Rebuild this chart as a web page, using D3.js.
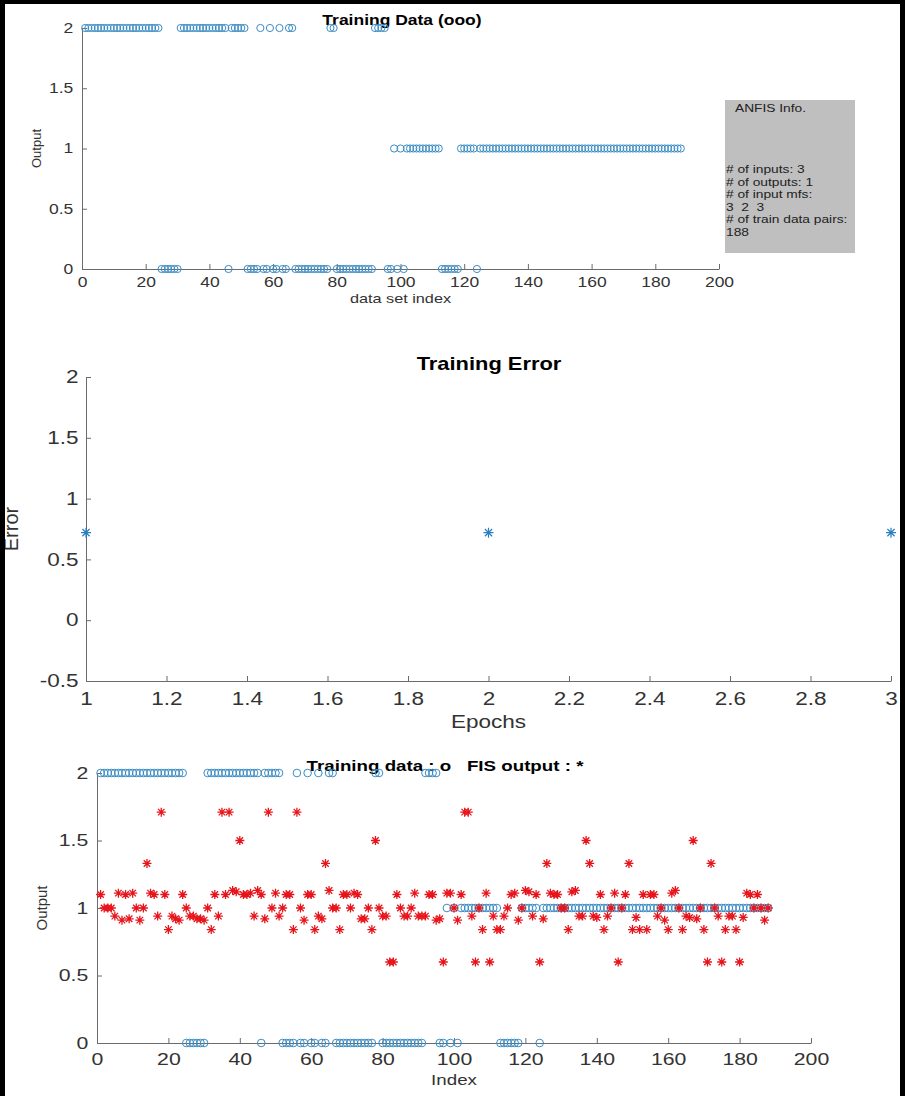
<!DOCTYPE html>
<html>
<head>
<meta charset="utf-8">
<script src="https://cdn.jsdelivr.net/npm/d3@7"></script>
<style>
  body { margin: 0; background: #fff; }
  svg { display: block; font-family: "Liberation Sans", Arial, sans-serif; }
  .axis path, .axis line { stroke: #6b6b6b; }
  .axis text { fill: #333; }
</style>
</head>
<body>
<div id="chart"></div>
<script>
// training data output per data set index (1..188)
const trainOutput = [
  2,2,2,2,2,2,2,2,2,2,
  2,2,2,2,2,2,2,2,2,2,
  2,2,2,2,0,0,0,0,0,0,
  2,2,2,2,2,2,2,2,2,2,
  2,2,2,2,2,0,2,2,2,2,
  2,0,0,0,0,2,0,0,2,0,
  0,2,0,0,2,2,0,0,0,0,
  0,0,0,0,0,0,0,2,2,0,
  0,0,0,0,0,0,0,0,0,0,
  0,2,2,2,2,0,0,1,0,1,
  0,1,1,1,1,1,1,1,1,1,
  1,1,0,0,0,0,0,0,1,1,
  1,1,1,0,1,1,1,1,1,1,
  1,1,1,1,1,1,1,1,1,1,
  1,1,1,1,1,1,1,1,1,1,
  1,1,1,1,1,1,1,1,1,1,
  1,1,1,1,1,1,1,1,1,1,
  1,1,1,1,1,1,1,1,1,1,
  1,1,1,1,1,1,1,1
];

// FIS output per index (1..188)
const fisOutput = [
  1.10,1.00,1.00,1.00,0.94,1.11,0.91,1.10,0.92,1.11,
  1.00,0.91,1.00,1.33,1.11,1.10,0.94,1.71,1.10,0.84,
  0.94,0.92,0.91,1.10,1.00,0.94,0.94,0.92,0.92,0.91,
  1.00,0.84,1.10,0.94,1.71,1.10,1.71,1.13,1.12,1.50,
  1.10,1.10,1.11,0.94,1.13,1.10,0.92,1.71,1.00,1.11,
  0.94,1.00,1.10,1.10,0.84,1.71,1.00,0.91,1.10,1.10,
  0.84,0.94,0.92,1.33,1.13,1.00,1.00,0.84,1.10,1.10,
  1.00,1.11,1.10,0.92,0.92,1.00,0.84,1.50,1.00,0.94,
  0.94,0.60,0.60,1.10,1.00,0.94,0.94,1.00,1.11,0.94,
  0.94,0.94,1.10,1.10,0.91,0.92,0.60,1.11,1.11,1.00,
  0.91,1.10,1.71,1.71,0.94,0.60,1.00,0.84,1.11,0.60,
  0.94,0.84,0.84,0.94,1.00,1.10,1.11,0.91,1.00,1.13,
  1.12,0.94,1.10,0.60,0.92,1.33,1.11,1.10,1.10,1.00,
  1.00,0.84,1.12,1.13,0.94,0.94,1.50,1.33,0.94,0.93,
  1.10,0.84,0.94,1.00,1.11,0.60,1.00,1.10,1.33,0.84,
  0.93,0.84,1.10,0.84,1.10,1.10,0.94,1.00,0.91,0.84,
  1.11,1.13,1.00,0.84,0.94,0.93,1.50,0.92,1.00,0.84,
  0.60,1.33,1.00,0.94,0.60,0.84,0.94,0.94,0.84,0.60,
  0.93,1.11,1.10,1.00,1.10,1.00,0.91,1.00
];

// training error per epoch
const epochs = [1, 2, 3];
const trainError = [0.72, 0.72, 0.72];

const idxTicks = [0, 20, 40, 60, 80, 100, 120, 140, 160, 180, 200];
const outTicks = [0, 0.5, 1, 1.5, 2];
const epochTicks = [1, 1.2, 1.4, 1.6, 1.8, 2, 2.2, 2.4, 2.6, 2.8, 3];
const errTicks = [-0.5, 0, 0.5, 1, 1.5, 2];

const infoLines = ["# of inputs: 3", "# of outputs: 1", "# of input mfs:", "3  2  3", "# of train data pairs:", "188"];

const W = 905, H = 1096;
const SX = 1.25;   // the original figure is stretched sideways, so is its text
const blue = "#3a8cc4", red = "#e8141b";
const fmt = d => d3.format("~g")(d).replace("\u2212", "-");

const svg = d3.select("#chart").append("svg")
    .attr("width", W)
    .attr("height", H);

// MATLAB style asterisk: + and x overlaid
function star(g, x, y, r, color, sw) {
    const d = r * 0.72;
    const p = `M${x - r},${y}L${x + r},${y}M${x},${y - r}L${x},${y + r}` +
              `M${x - d},${y - d}L${x + d},${y + d}M${x - d},${y + d}L${x + d},${y - d}`;
    g.append("path").attr("d", p).attr("stroke", color).attr("stroke-width", sw).attr("fill", "none");
}

// horizontal text, widened like the original
function label(g, x, y, txt, size, opts = {}) {
    return g.append("text")
        .attr("transform", `translate(${x},${y}) scale(${SX},1)`)
        .attr("text-anchor", opts.anchor || "start")
        .attr("fill", opts.fill || "#333")
        .style("font-size", size + "px")
        .style("font-weight", opts.bold ? "bold" : null)
        .style("white-space", "pre")
        .text(txt);
}

function makeAxes(cfg) {
    let vis = {};
    vis.x = d3.scaleLinear().domain(cfg.xDomain).range([cfg.left, cfg.right]);
    vis.y = d3.scaleLinear().domain(cfg.yDomain).range([cfg.bottom, cfg.top]);
    vis.g = svg.append("g");

    const xAxis = d3.axisBottom(vis.x).tickValues(cfg.xTicks).tickSizeInner(-5).tickSizeOuter(0)
        .tickPadding(cfg.xPad).tickFormat(fmt);
    const yAxis = d3.axisLeft(vis.y).tickValues(cfg.yTicks).tickSizeInner(-5).tickSizeOuter(0)
        .tickPadding(cfg.yPad).tickFormat(fmt);

    vis.g.append("g").attr("class", "axis")
        .attr("transform", `translate(0,${cfg.bottom})`)
        .call(xAxis)
        .call(g => g.selectAll("text").style("font-size", cfg.fs + "px").attr("transform", `scale(${SX},1)`));
    vis.g.append("g").attr("class", "axis")
        .attr("transform", `translate(${cfg.left},0)`)
        .call(yAxis)
        .call(g => g.selectAll("text").style("font-size", cfg.fs + "px").attr("transform", `scale(${SX},1)`));
    vis.g.selectAll(".domain").attr("stroke", "#6b6b6b");

    // titles
    label(vis.g, cfg.titleX, cfg.titleY, cfg.title, cfg.titleFs, {anchor: "middle", bold: true, fill: "#000"});
    label(vis.g, (cfg.left + cfg.right) / 2, cfg.xLabelY, cfg.xLabel, cfg.labFs, {anchor: "middle"});
    vis.g.append("text")
        .attr("transform", `translate(${cfg.yLabelX},${(cfg.top + cfg.bottom) / 2}) rotate(-90)`)
        .attr("text-anchor", "middle").attr("fill", "#333")
        .style("font-size", (cfg.yLabFs || cfg.labFs) + "px")
        .text(cfg.yLabel);
    return vis;
}

// ---------- Top: training data ----------
const topChart = makeAxes({
    left: 82, right: 719, top: 28, bottom: 269,
    xDomain: [0, 200], yDomain: [0, 2], xTicks: idxTicks, yTicks: outTicks,
    fs: 14, xPad: 8, yPad: 7, title: "Training Data (ooo)", titleX: 402, titleY: 25, titleFs: 14,
    xLabel: "data set index", xLabelY: 303, labFs: 13, yLabel: "Output", yLabelX: 41
});
topChart.g.append("g").selectAll("circle")
    .data(trainOutput)
  .join("circle")
    .attr("cx", (d, i) => topChart.x(i + 1))
    .attr("cy", d => topChart.y(d))
    .attr("r", 3.6)
    .attr("fill", "none")
    .attr("stroke", blue)
    .attr("stroke-width", 1);

// info box
const info = svg.append("g");
info.append("rect").attr("x", 725).attr("y", 100).attr("width", 130).attr("height", 153).attr("fill", "#bfbfbf");
label(info, 735, 112, "ANFIS Info.", 11, {fill: "#222"});
infoLines.forEach((t, i) => label(info, 726, 173 + i * 12.5, t, 11, {fill: "#222"}));

// ---------- Middle: training error ----------
const midChart = makeAxes({
    left: 86, right: 891, top: 377, bottom: 681,
    xDomain: [1, 3], yDomain: [-0.5, 2], xTicks: epochTicks, yTicks: errTicks,
    fs: 18, xPad: 11, yPad: 6, title: "Training Error", titleX: 489, titleY: 370, titleFs: 17.5,
    xLabel: "Epochs", xLabelY: 728, labFs: 18, yLabel: "Error", yLabelX: 18, yLabFs: 20
});
midChart.g.append("g").call(g => epochs.forEach((e, i) =>
    star(g, midChart.x(e), midChart.y(trainError[i]), 5, "#2a7fc0", 1.2)));

// ---------- Bottom: training data vs FIS output ----------
const botChart = makeAxes({
    left: 97, right: 811, top: 773, bottom: 1043,
    xDomain: [0, 200], yDomain: [0, 2], xTicks: idxTicks, yTicks: outTicks,
    fs: 17, xPad: 10, yPad: 7, title: "Training data : o   FIS output : *", titleX: 445, titleY: 771, titleFs: 15,
    xLabel: "Index", xLabelY: 1085, labFs: 15, yLabel: "Output", yLabelX: 47
});
botChart.g.append("g").selectAll("circle")
    .data(trainOutput)
  .join("circle")
    .attr("cx", (d, i) => botChart.x(i + 1))
    .attr("cy", d => botChart.y(d))
    .attr("r", 3.8)
    .attr("fill", "none")
    .attr("stroke", blue)
    .attr("stroke-width", 1);
botChart.g.append("g").call(g => fisOutput.forEach((v, i) =>
    star(g, botChart.x(i + 1), botChart.y(v), 4.5, red, 1.3)));

// black frame around the figure
svg.append("rect").attr("x", 0).attr("y", 0).attr("width", 5).attr("height", H).attr("fill", "#000");
svg.append("rect").attr("x", 0).attr("y", 0).attr("width", W).attr("height", 4).attr("fill", "#000");
svg.append("rect").attr("x", 900).attr("y", 0).attr("width", 5).attr("height", H).attr("fill", "#000");
</script>
</body>
</html>
